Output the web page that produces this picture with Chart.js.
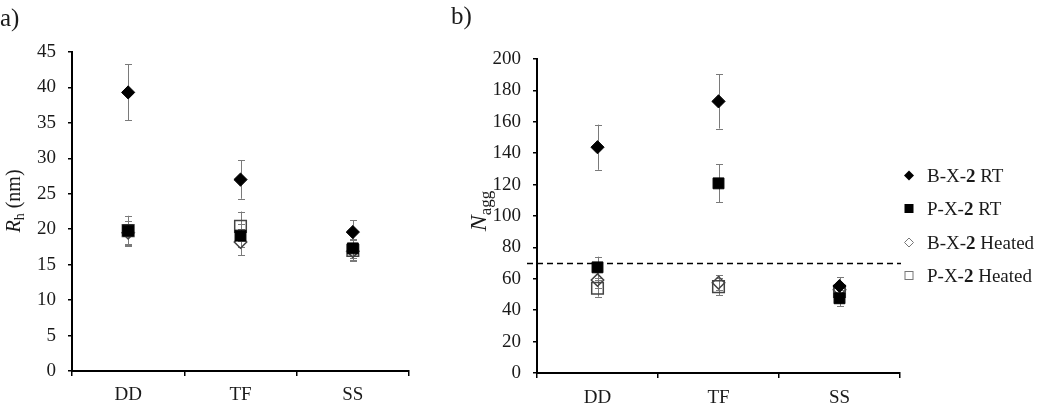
<!DOCTYPE html>
<html>
<head>
<meta charset="utf-8">
<script src="https://cdn.jsdelivr.net/npm/chart.js@4.4.1/dist/chart.umd.min.js"></script>
<style>
  html, body { margin: 0; padding: 0; background: #fff; }
  #wrap { position: relative; width: 1050px; height: 404px; overflow: hidden; font-family: "Liberation Serif", "Times New Roman", serif; color: #1a1a1a; }
  .cv { position: absolute; top: 0; }
  .lbl { position: absolute; font-size: 25px; line-height: 1; }
  .ytitle { position: absolute; white-space: nowrap; font-size: 20px; line-height: 1; transform: translate(-50%, -50%) rotate(-90deg); }
  .ytitle sub { font-size: 14px; vertical-align: -4px; line-height: 0; }
  .ytitle.big { font-size: 24px; }
  .ytitle.big sub { font-size: 17px; vertical-align: -5px; }
  .leg { position: absolute; left: 900px; font-size: 19px; white-space: nowrap; line-height: 1; }
  .leg .row { position: absolute; left: 0; display: flex; align-items: center; transform: translateY(-50%); }
  .leg svg { width: 18px; height: 14px; margin-right: 9px; }
</style>
</head>
<body>
<div id="wrap">
  <div class="cv" style="left:0;width:420px;height:404px;"><canvas id="chartA" width="420" height="404"></canvas></div>
  <div class="cv" style="left:430px;width:480px;height:404px;"><canvas id="chartB" width="480" height="404"></canvas></div>
  <div class="lbl" style="left:0px;top:5px;">a)</div>
  <div class="lbl" style="left:451px;top:3px;">b)</div>
  <div class="ytitle" style="left:13px;top:201px;"><i>R</i><sub>h</sub> (nm)</div>
  <div class="ytitle big" style="left:478px;top:211px;"><i>N</i><sub>agg</sub></div>
  <div class="leg">
    <div class="row" style="top:175px;"><svg viewBox="0 0 18 14"><polygon points="9,2 14,7 9,12 4,7" fill="#000"/></svg><span>B-X-<b>2</b> RT</span></div>
    <div class="row" style="top:208px;"><svg viewBox="0 0 18 14"><rect x="4.5" y="2.5" width="9" height="9" fill="#000"/></svg><span>P-X-<b>2</b> RT</span></div>
    <div class="row" style="top:242px;"><svg viewBox="0 0 18 14"><polygon points="9,2.5 13.5,7 9,11.5 4.5,7" fill="none" stroke="#777" stroke-width="1"/></svg><span>B-X-<b>2</b> Heated</span></div>
    <div class="row" style="top:275px;"><svg viewBox="0 0 18 14"><rect x="5" y="3" width="8" height="8" fill="none" stroke="#777" stroke-width="1"/></svg><span>P-X-<b>2</b> Heated</span></div>
  </div>
</div>
<script>
// ---------- data ----------
const categories = ['DD', 'TF', 'SS'];
const seriesNames = ['B-X-2 RT', 'P-X-2 RT', 'B-X-2 Heated', 'P-X-2 Heated'];

// panel a) hydrodynamic radius Rh (nm)
const rhBRT      = [39.3, 27.0, 19.6];
const rhBRTErr   = [3.95, 2.7, 1.7];
const rhPRT      = [19.8, 19.1, 17.3];
const rhPRTErr   = [2.1, 1.6, 1.3];
const rhBHeat    = [19.5, 18.2, 16.9];
const rhBHeatErr = [1.6, 1.9, 1.2];
const rhPHeat    = [19.8, 20.4, 17.0];
const rhPHeatErr = [2.0, 2.1, 1.5];
const rhAxisMin = 0, rhAxisMax = 45, rhAxisStep = 5;

// panel b) aggregation number Nagg
const nBRT      = [143.8, 173.0, 55.4];
const nBRTErr   = [14.4, 17.3, 5.5];
const nPRT      = [67.3, 120.8, 47.6];
const nPRTErr   = [6.8, 12.2, 5.0];
const nBHeat    = [59.2, 57.5, 53.0];
const nBHeatErr = [5.0, 4.7, 4.0];
const nPHeat    = [54.0, 55.0, 52.0];
const nPHeatErr = [5.4, 5.3, 4.5];
const nAxisMin = 0, nAxisMax = 200, nAxisStep = 20;
const nThreshold = 70;

// ---------- styling ----------
const FONT = '"Liberation Serif", "Times New Roman", serif';
const TXT = '#1a1a1a';

function makeDatasets(vals, errs) {
  const styles = [
    { pointStyle: 'rectRot', pointRadius: 6.6, backgroundColor: '#000', borderColor: '#000', borderWidth: 1 },
    { pointStyle: 'rect', pointRadius: 7.7, backgroundColor: '#000', borderColor: '#000', borderWidth: 1 },
    { pointStyle: 'rectRot', pointRadius: 6.2, backgroundColor: 'rgba(0,0,0,0)', borderColor: '#444', borderWidth: 1.5 },
    { pointStyle: 'rect', pointRadius: 8.2, backgroundColor: 'rgba(0,0,0,0)', borderColor: '#444', borderWidth: 1.5 }
  ];
  return vals.map((v, i) => Object.assign({
    label: seriesNames[i],
    data: v,
    errors: errs[i],
    showLine: false,
    pointBorderColor: styles[i].borderColor,
    pointBackgroundColor: styles[i].backgroundColor,
    pointBorderWidth: styles[i].borderWidth,
    pointHoverRadius: styles[i].pointRadius
  }, styles[i]));
}

const errorBarPlugin = {
  id: 'errorBars',
  beforeDatasetsDraw(chart) {
    const ctx = chart.ctx;
    const ys = chart.scales.y;
    ctx.save();
    ctx.strokeStyle = '#7a7a7a';
    ctx.lineWidth = 1;
    chart.data.datasets.forEach((ds, di) => {
      const meta = chart.getDatasetMeta(di);
      meta.data.forEach((pt, j) => {
        const e = ds.errors[j];
        const v = ds.data[j];
        const yt = ys.getPixelForValue(v + e);
        const yb = ys.getPixelForValue(v - e);
        const x = Math.round(pt.x) + 0.5;
        ctx.beginPath();
        ctx.moveTo(x, yt); ctx.lineTo(x, yb);
        ctx.moveTo(x - 3.5, Math.round(yt) + 0.5); ctx.lineTo(x + 3.5, Math.round(yt) + 0.5);
        ctx.moveTo(x - 3.5, Math.round(yb) + 0.5); ctx.lineTo(x + 3.5, Math.round(yb) + 0.5);
        ctx.stroke();
      });
    });
    ctx.restore();
  }
};

const thresholdPlugin = {
  id: 'threshold',
  afterDatasetsDraw(chart, args, opts) {
    if (opts.value === undefined) return;
    const ctx = chart.ctx;
    const y = Math.round(chart.scales.y.getPixelForValue(opts.value)) + 0.5;
    ctx.save();
    ctx.strokeStyle = '#000';
    ctx.lineWidth = 1.6;
    ctx.setLineDash([6, 4]);
    ctx.beginPath();
    ctx.moveTo(chart.chartArea.left - 10, y);
    ctx.lineTo(chart.chartArea.right + 1, y);
    ctx.stroke();
    ctx.restore();
  }
};

function makeOptions(cfg) {
  return {
    responsive: false,
    animation: false,
    events: [],
    layout: { padding: { left: 0, top: cfg.top, right: cfg.right, bottom: 0 } },
    plugins: {
      legend: { display: false },
      tooltip: { enabled: false },
      threshold: { value: cfg.threshold }
    },
    scales: {
      x: {
        type: 'category',
        offset: true,
        grid: { display: true, offset: true, drawOnChartArea: false, drawTicks: true, tickLength: 5, color: '#000', lineWidth: 1.5 },
        border: { display: true, color: '#000', width: 2 },
        ticks: { color: TXT, font: { family: FONT, size: 19 }, padding: cfg.xpad, maxRotation: 0 },
        afterFit(s) { s.height = cfg.xh; }
      },
      y: {
        min: cfg.min, max: cfg.max,
        grid: { display: true, drawOnChartArea: false, drawTicks: true, tickLength: 4, color: '#000', lineWidth: 1.5 },
        border: { display: true, color: '#000', width: 2 },
        ticks: { stepSize: cfg.step, color: TXT, font: { family: FONT, size: 19 }, padding: 12 },
        afterFit(s) { s.width = cfg.yw; }
      }
    }
  };
}

function build() {
  new Chart(document.getElementById('chartA'), {
    type: 'line',
    data: {
      labels: categories,
      datasets: makeDatasets([rhBRT, rhPRT, rhBHeat, rhPHeat], [rhBRTErr, rhPRTErr, rhBHeatErr, rhPHeatErr])
    },
    options: makeOptions({ top: 52, right: 11, xh: 33, yw: 72, xpad: 8, min: rhAxisMin, max: rhAxisMax, step: rhAxisStep }),
    plugins: [errorBarPlugin, thresholdPlugin]
  });
  new Chart(document.getElementById('chartB'), {
    type: 'line',
    data: {
      labels: categories,
      datasets: makeDatasets([nBRT, nPRT, nBHeat, nPHeat], [nBRTErr, nPRTErr, nBHeatErr, nPHeatErr])
    },
    options: makeOptions({ top: 59, right: 10, xh: 31, yw: 107, xpad: 9, min: nAxisMin, max: nAxisMax, step: nAxisStep, threshold: nThreshold }),
    plugins: [errorBarPlugin, thresholdPlugin]
  });
}

if (document.fonts && document.fonts.load) {
  Promise.all([
    document.fonts.load('19px "Liberation Serif"'),
    document.fonts.load('bold 19px "Liberation Serif"'),
    document.fonts.load('italic 20px "Liberation Serif"')
  ]).then(build, build);
} else {
  build();
}
</script>
</body>
</html>
